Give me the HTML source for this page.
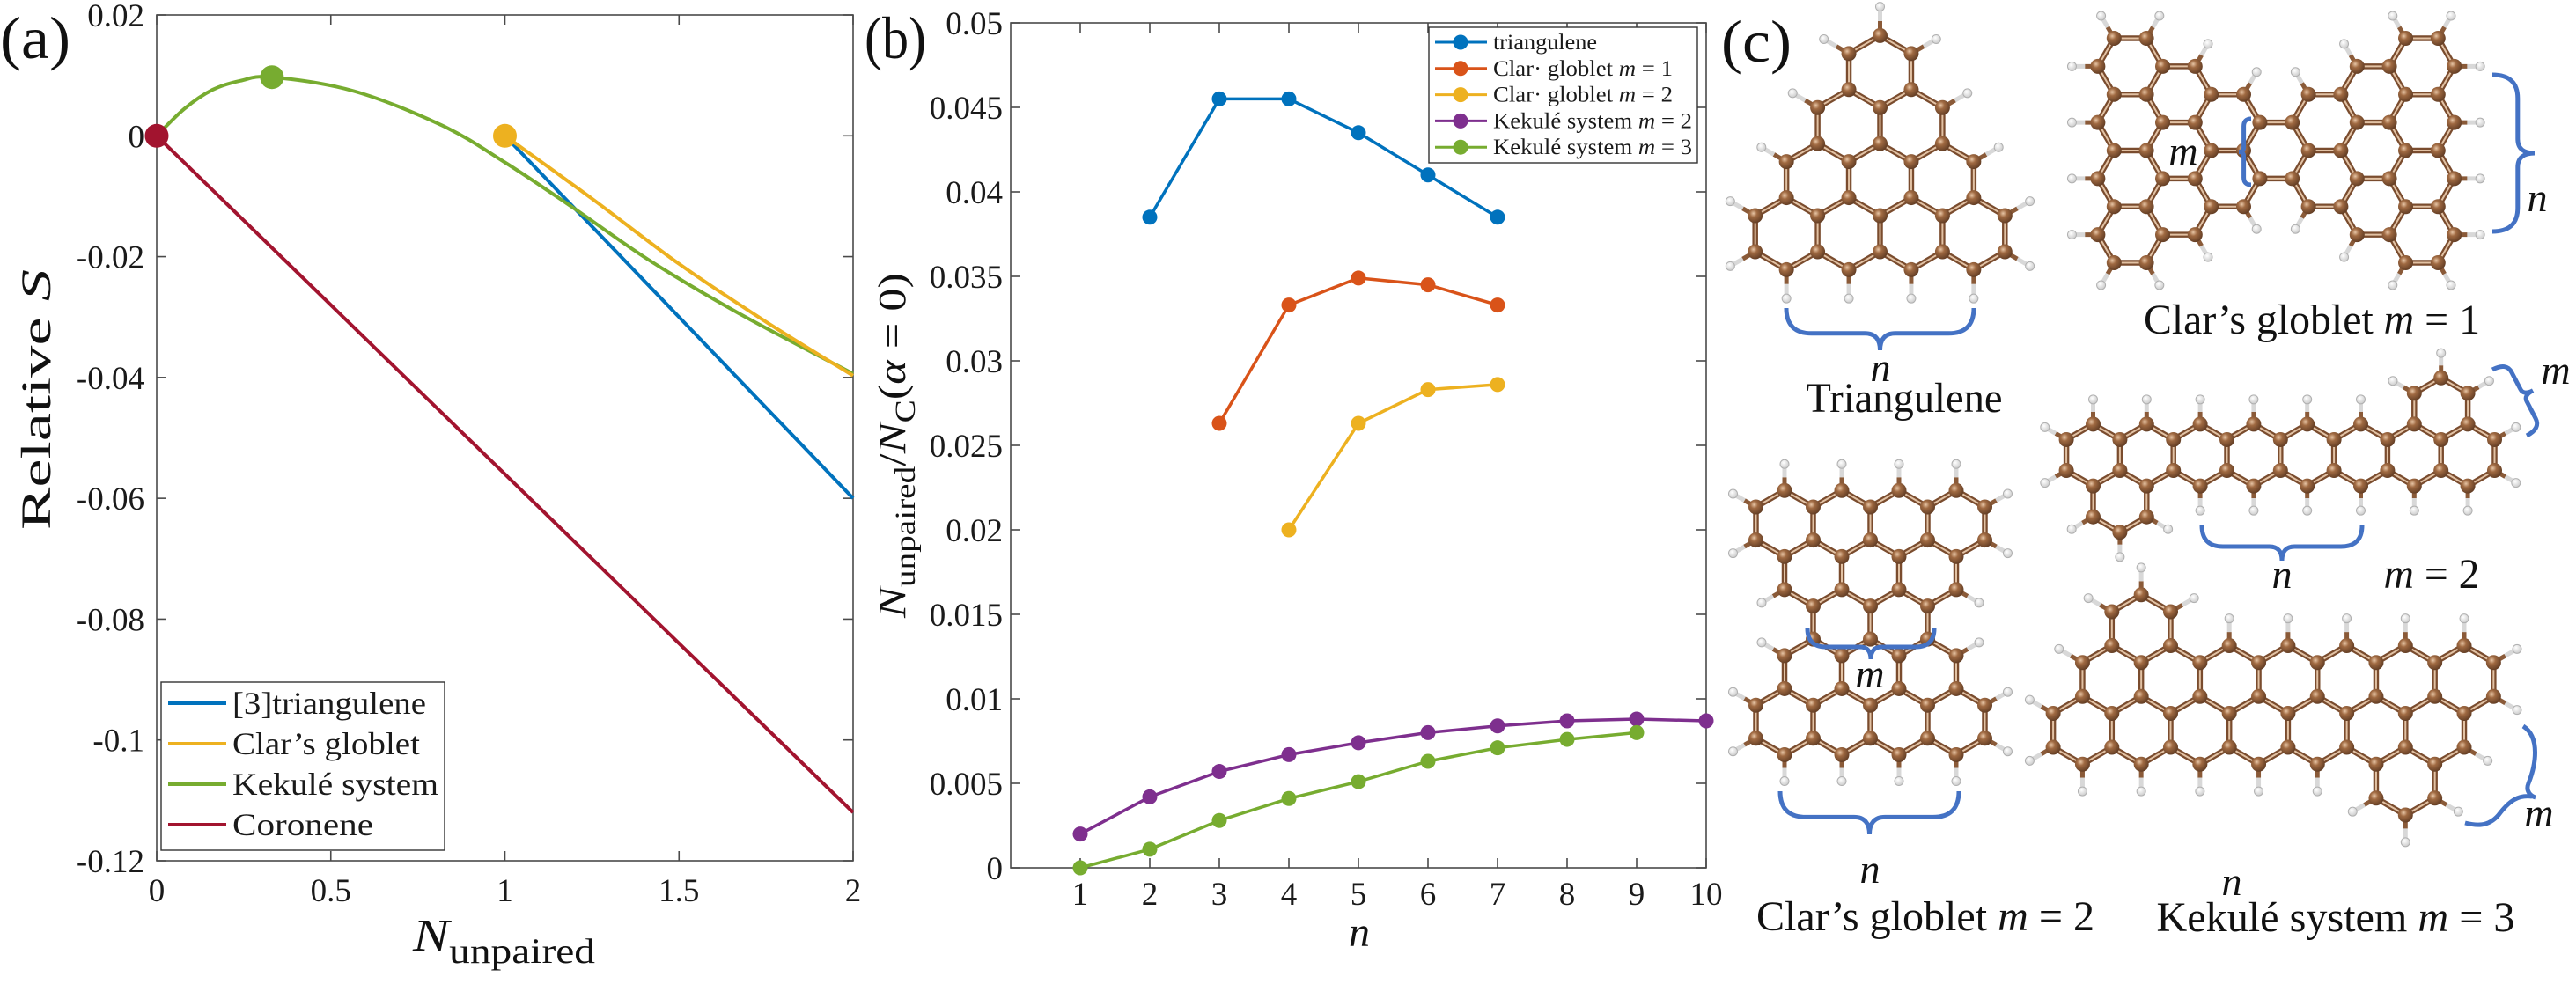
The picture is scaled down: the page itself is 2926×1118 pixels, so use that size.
<!DOCTYPE html>
<html><head><meta charset="utf-8">
<style>
html,body{margin:0;padding:0;background:#fff;}
svg{display:block;font-family:"Liberation Serif","DejaVu Serif",serif;}
</style></head>
<body>
<svg id="fig" width="2926" height="1118" viewBox="0 0 2926 1118" xmlns="http://www.w3.org/2000/svg">
<defs>
<radialGradient id="cg" cx="0.38" cy="0.35" r="0.7"><stop offset="0" stop-color="#e8c6a6"/><stop offset="0.35" stop-color="#a06a42"/><stop offset="1" stop-color="#5e3a22"/></radialGradient>
<radialGradient id="hg" cx="0.4" cy="0.35" r="0.7"><stop offset="0" stop-color="#ffffff"/><stop offset="1" stop-color="#c8c8c8"/></radialGradient>
</defs>
<g id="panelA"></g>
<g id="panelB"></g>
<g id="panelC"></g>
</svg>
<script>
// ---------- Panel (a) data ----------
const aKekN = [0, 0.08, 0.16, 0.24, 0.331, 0.566, 0.82, 1.0, 1.196, 1.412, 1.666, 2];
const aKekS = [0, 0.0045, 0.0076, 0.0091, 0.0097, 0.0074, 0.0017, -0.0044, -0.0119, -0.0205, -0.0292, -0.0394];
const aClarN = [1, 1.25, 1.5, 1.75, 2];
const aClarS = [0, -0.0104, -0.0212, -0.0308, -0.0397];
const aTriN = [1, 1.5, 2];
const aTriS = [0, -0.030, -0.060];
const aCorN = [0, 1, 2];
const aCorS = [0, -0.056, -0.112];
const aXTicks = [0, 0.5, 1, 1.5, 2];
const aXTickLabels = ["0", "0.5", "1", "1.5", "2"];
const aYTicks = [0.02, 0, -0.02, -0.04, -0.06, -0.08, -0.1, -0.12];
const aYTickLabels = ["0.02", "0", "-0.02", "-0.04", "-0.06", "-0.08", "-0.1", "-0.12"];
const aLegend = ["[3]triangulene", "Clar’s globlet", "Kekulé system", "Coronene"];
// ---------- Panel (b) data ----------
const bTriN = [2, 3, 4, 5, 6, 7];
const bTriV = [0.0385, 0.0455, 0.0455, 0.0435, 0.0410, 0.0385];
const bClar1N = [3, 4, 5, 6, 7];
const bClar1V = [0.0263, 0.0333, 0.0349, 0.0345, 0.0333];
const bClar2N = [4, 5, 6, 7];
const bClar2V = [0.0200, 0.0263, 0.0283, 0.0286];
const bKek2N = [1, 2, 3, 4, 5, 6, 7, 8, 9, 10];
const bKek2V = [0.0020, 0.0042, 0.0057, 0.0067, 0.0074, 0.0080, 0.0084, 0.0087, 0.0088, 0.0087];
const bKek3N = [1, 2, 3, 4, 5, 6, 7, 8, 9];
const bKek3V = [0.0000, 0.0011, 0.0028, 0.0041, 0.0051, 0.0063, 0.0071, 0.0076, 0.0080];
const bXTicks = [1, 2, 3, 4, 5, 6, 7, 8, 9, 10];
const bYTicks = [0, 0.005, 0.01, 0.015, 0.02, 0.025, 0.03, 0.035, 0.04, 0.045, 0.05];
const bYTickLabels = ["0", "0.005", "0.01", "0.015", "0.02", "0.025", "0.03", "0.035", "0.04", "0.045", "0.05"];

const NS = "http://www.w3.org/2000/svg";
function mk(tag, attrs, parent) {
  const e = document.createElementNS(NS, tag);
  for (const k in attrs) e.setAttribute(k, attrs[k]);
  if (parent) parent.appendChild(e);
  return e;
}
function smoothPath(pts) {
  if (pts.length < 3) return "M" + pts.map(p => p[0].toFixed(1) + "," + p[1].toFixed(1)).join(" L");
  let d = "M" + pts[0][0].toFixed(1) + "," + pts[0][1].toFixed(1);
  for (let i = 0; i < pts.length - 1; i++) {
    const p0 = pts[Math.max(0, i - 1)], p1 = pts[i], p2 = pts[i + 1], p3 = pts[Math.min(pts.length - 1, i + 2)];
    const c1 = [p1[0] + (p2[0] - p0[0]) / 6, p1[1] + (p2[1] - p0[1]) / 6];
    const c2 = [p2[0] - (p3[0] - p1[0]) / 6, p2[1] - (p3[1] - p1[1]) / 6];
    d += " C" + c1.map(v => v.toFixed(1)).join(",") + " " + c2.map(v => v.toFixed(1)).join(",") + " " + p2.map(v => v.toFixed(1)).join(",");
  }
  return d;
}

// ================= Panel A =================
(function () {
  const g = document.getElementById("panelA");
  const L = 178, R = 969, T = 17, B = 978;
  const xA = n => L + (n - 0) / 2 * (R - L);
  const yA = v => T + (0.02 - v) / 0.14 * (B - T);
  const ax = mk("rect", {x: L, y: T, width: R - L, height: B - T, fill: "none", stroke: "#4a4a4a", "stroke-width": 1.6}, g);
  
  
  aXTicks.forEach((t, i) => {
    const x = xA(t);
    mk("line", {x1: x, y1: B, x2: x, y2: B - 11, stroke: "#4a4a4a", "stroke-width": 1.6}, g);
    mk("line", {x1: x, y1: T, x2: x, y2: T + 11, stroke: "#4a4a4a", "stroke-width": 1.6}, g);
    const tx = mk("text", {x: x, y: 1024, "font-size": 37, "text-anchor": "middle", fill: "#1a1a1a"}, g);
    tx.textContent = aXTickLabels[i];
    
    
  });
  aYTicks.forEach((t, i) => {
    const y = yA(t);
    mk("line", {x1: L, y1: y, x2: L + 11, y2: y, stroke: "#4a4a4a", "stroke-width": 1.6}, g);
    mk("line", {x1: R, y1: y, x2: R - 11, y2: y, stroke: "#4a4a4a", "stroke-width": 1.6}, g);
    const tx = mk("text", {x: 164, y: y + 13, "font-size": 37, "text-anchor": "end", fill: "#1a1a1a"}, g);
    tx.textContent = aYTickLabels[i];
    
    
  });
  const series = [
    {n: aCorN, v: aCorS, c: "#A2142F", name: "coronene-line"},
    {n: aTriN, v: aTriS, c: "#0072BD", name: "triangulene-line"},
    {n: aKekN, v: aKekS, c: "#77AC30", name: "kekule-line"},
    {n: aClarN, v: aClarS, c: "#EDB120", name: "clar-goblet-line"}
  ];
  series.forEach(s => {
    const pts = s.n.map((n, i) => [xA(n), yA(s.v[i])]);
    const p = mk("path", {d: smoothPath(pts), fill: "none", stroke: s.c, "stroke-width": 4, "stroke-linejoin": "round"}, g);
    
    
  });
  const marks = [
    {n: aKekN[4], v: aKekS[4], c: "#77AC30", name: "kekule-marker"},
    {n: aClarN[0], v: aClarS[0], c: "#EDB120", name: "clar-goblet-marker"},
    {n: aCorN[0], v: aCorS[0], c: "#A2142F", name: "coronene-marker"}
  ];
  marks.forEach(m => {
    const c = mk("circle", {cx: xA(m.n), cy: yA(m.v), r: 13.5, fill: m.c}, g);
    
    
  });
  const lg = mk("g", {}, g);
  
  
  mk("rect", {x: 183, y: 775, width: 322, height: 191, fill: "#fff", stroke: "#333", "stroke-width": 1.4}, lg);
  const lc = ["#0072BD", "#EDB120", "#77AC30", "#A2142F"];
  const lw = [220, 213, 234, 160];
  aLegend.forEach((t, i) => {
    const y = 799 + i * 46;
    mk("line", {x1: 191, y1: y, x2: 257, y2: y, stroke: lc[i], "stroke-width": 4}, lg);
    const tx = mk("text", {x: 264, y: y + 12, "font-size": 36, fill: "#1a1a1a", textLength: lw[i], lengthAdjust: "spacingAndGlyphs"}, lg);
    tx.textContent = t;
    
    
  });
})();

// ================= Panel B =================
(function () {
  const g = document.getElementById("panelB");
  const L = 1148, R = 1938, T = 26, B = 986;
  const xB = n => L + n / 10 * (R - L);
  const yB = v => B - v / 0.05 * (B - T);
  const ax = mk("rect", {x: L, y: T, width: R - L, height: B - T, fill: "none", stroke: "#4a4a4a", "stroke-width": 1.6}, g);
  
  
  bXTicks.forEach(t => {
    const x = xB(t);
    mk("line", {x1: x, y1: B, x2: x, y2: B - 11, stroke: "#4a4a4a", "stroke-width": 1.6}, g);
    mk("line", {x1: x, y1: T, x2: x, y2: T + 11, stroke: "#4a4a4a", "stroke-width": 1.6}, g);
    const tx = mk("text", {x: x, y: 1028, "font-size": 37, "text-anchor": "middle", fill: "#1a1a1a"}, g);
    tx.textContent = String(t);
    
    
  });
  bYTicks.forEach((t, i) => {
    const y = yB(t);
    mk("line", {x1: L, y1: y, x2: L + 11, y2: y, stroke: "#4a4a4a", "stroke-width": 1.6}, g);
    mk("line", {x1: R, y1: y, x2: R - 11, y2: y, stroke: "#4a4a4a", "stroke-width": 1.6}, g);
    const tx = mk("text", {x: 1139, y: y + 13, "font-size": 37, "text-anchor": "end", fill: "#1a1a1a"}, g);
    tx.textContent = bYTickLabels[i];
    
    
  });
  const series = [
    {n: bTriN, v: bTriV, c: "#0072BD", name: "series-triangulene"},
    {n: bClar1N, v: bClar1V, c: "#D95319", name: "series-clar-m1"},
    {n: bClar2N, v: bClar2V, c: "#EDB120", name: "series-clar-m2"},
    {n: bKek2N, v: bKek2V, c: "#7E2F8E", name: "series-kekule-m2"},
    {n: bKek3N, v: bKek3V, c: "#77AC30", name: "series-kekule-m3"}
  ];
  series.forEach(s => {
    const sg = mk("g", {}, g);
    
    
    const pts = s.n.map((n, i) => xB(n).toFixed(1) + "," + yB(s.v[i]).toFixed(1)).join(" ");
    mk("polyline", {points: pts, fill: "none", stroke: s.c, "stroke-width": 3.5, "stroke-linejoin": "round"}, sg);
    s.n.forEach((n, i) => {
      const c = mk("circle", {cx: xB(n), cy: yB(s.v[i]), r: 8.5, fill: s.c}, sg);
      
      
    });
  });
  const lg = mk("g", {}, g);
  
  
  mk("rect", {x: 1623, y: 31, width: 305, height: 154, fill: "#fff", stroke: "#333", "stroke-width": 1.4}, lg);
  const items = [
    ["triangulene", "", "#0072BD", 118],
    ["Clar· globlet ", "= 1", "#D95319", 204],
    ["Clar· globlet ", "= 2", "#EDB120", 204],
    ["Kekulé system ", "= 2", "#7E2F8E", 226],
    ["Kekulé system ", "= 3", "#77AC30", 226]
  ];
  items.forEach((it, i) => {
    const y = 48 + i * 29.8;
    mk("line", {x1: 1630, y1: y, x2: 1689, y2: y, stroke: it[2], "stroke-width": 3}, lg);
    mk("circle", {cx: 1659, cy: y, r: 8.5, fill: it[2]}, lg);
    const tx = mk("text", {x: 1696, y: y + 8, "font-size": 25, fill: "#1a1a1a", textLength: it[3], lengthAdjust: "spacingAndGlyphs"}, lg);
    
    
    if (it[1]) {
      tx.appendChild(document.createTextNode(it[0]));
      const m = mk("tspan", {"font-style": "italic"}, tx); m.textContent = "m";
      tx.appendChild(document.createTextNode(" " + it[1]));
    } else tx.textContent = it[0];
  });
})();

// ================= Panel C (molecules) =================
const pc = document.getElementById("panelC");
function molecule(name, rings, b, flat) {
  const g = mk("g", {}, pc);
  
  
  const atoms = [], amap = {}, bonds = {}, nb = {};
  function aid(x, y) {
    const k = Math.round(x / 4) + "_" + Math.round(y / 4);
    for (let dx = -1; dx <= 1; dx++) for (let dy = -1; dy <= 1; dy++) {
      const kk = (Math.round(x / 4) + dx) + "_" + (Math.round(y / 4) + dy);
      if (amap[kk] !== undefined) return amap[kk];
    }
    amap[k] = atoms.length; atoms.push([x, y]); nb[atoms.length - 1] = new Set(); return atoms.length - 1;
  }
  rings.forEach(([cx, cy]) => {
    const ids = [];
    for (let k = 0; k < 6; k++) {
      const a = (flat ? 0 : 30) + 60 * k;
      ids.push(aid(cx + b * Math.cos(a * Math.PI / 180), cy + b * Math.sin(a * Math.PI / 180)));
    }
    for (let k = 0; k < 6; k++) {
      const i = ids[k], j = ids[(k + 1) % 6];
      const key = Math.min(i, j) + "-" + Math.max(i, j);
      bonds[key] = [i, j]; nb[i].add(j); nb[j].add(i);
    }
  });
  const hs = [];
  atoms.forEach((p, i) => {
    if (nb[i].size === 2) {
      let mx = 0, my = 0; nb[i].forEach(j => { mx += atoms[j][0]; my += atoms[j][1]; });
      mx /= 2; my /= 2;
      let dx = p[0] - mx, dy = p[1] - my; const l = Math.hypot(dx, dy);
      hs.push([i, p[0] + dx / l * b * 0.8, p[1] + dy / l * b * 0.8]);
    }
  });
  hs.forEach(([i, hx, hy]) => {
    const p = atoms[i];
    mk("line", {x1: p[0], y1: p[1], x2: (p[0] + hx) / 2, y2: (p[1] + hy) / 2, stroke: "#8a5a38", "stroke-width": 5}, g);
    mk("line", {x1: (p[0] + hx) / 2, y1: (p[1] + hy) / 2, x2: hx, y2: hy, stroke: "#d8d8d8", "stroke-width": 5}, g);
  });
  Object.values(bonds).forEach(([i, j]) => {
    const a = atoms[i], c = atoms[j];
    mk("line", {x1: a[0], y1: a[1], x2: c[0], y2: c[1], stroke: "#7a4c2e", "stroke-width": 6.5}, g);
    mk("line", {x1: a[0], y1: a[1], x2: c[0], y2: c[1], stroke: "#e2c2a4", "stroke-width": 2}, g);
  });
  hs.forEach(([i, hx, hy]) => {
    mk("circle", {cx: hx, cy: hy, r: 5, fill: "url(#hg)", stroke: "#b0b0b0", "stroke-width": 1}, g);
  });
  atoms.forEach(p => mk("circle", {cx: p[0], cy: p[1], r: 8.5, fill: "url(#cg)"}, g));
}
function rowRings(x0, dx, count, y) { const r = []; for (let i = 0; i < count; i++) r.push([x0 + i * dx, y]); return r; }

(function () {
  const s = 70.9, b = s / Math.sqrt(3), r = [];
  for (let row = 0; row < 4; row++) r.push(...rowRings(2135.5 - row * s / 2, s, row + 1, 265.5 - (3 - row) * 1.5 * b));
  molecule("triangulene-molecule", r, b, false);
})();
(function () {
  const s = 65, b = s / Math.sqrt(3), counts = [4, 3, 2, 3, 4], r = [];
  counts.forEach((c, row) => r.push(...rowRings(2124.5 - (c - 1) * s / 2, s, c, 594.8 + row * 1.5 * b)));
  molecule("clar-goblet-m2-molecule", r, b, false);
})();
(function () {
  const b = 36.8, h = Math.sqrt(3) * b, counts = [4, 3, 2, 1, 2, 3, 4], r = [];
  counts.forEach((c, col) => { for (let j = 0; j < c; j++) r.push([2419.7 + col * 1.5 * b, 171 + (j - (c - 1) / 2) * h]); });
  molecule("clar-goblet-m1-molecule", r, b, true);
})();
(function () {
  const s = 60.8, b = s / Math.sqrt(3), r = rowRings(2377.5, s, 8, 517);
  r.push([2377.5 + 0.5 * s, 517 + 1.5 * b]);
  r.push([2377.5 + 6.5 * s, 517 - 1.5 * b]);
  molecule("kekule-m2-molecule", r, b, false);
})();
(function () {
  const s = 66.7, b = s / Math.sqrt(3);
  const r = rowRings(2398.8, s, 7, 772).concat(rowRings(2398.8 - s / 2, s, 7, 772 + 1.5 * b));
  r.push([2398.8 + 0.5 * s, 772 - 1.5 * b]);
  r.push([2398.8 - s / 2 + 5.5 * s, 772 + 3 * b]);
  molecule("kekule-m3-molecule", r, b, false);
})();

function brace(name, x1, y1, x2, y2, d) {
  const dx = x2 - x1, dy = y2 - y1, L = Math.hypot(dx, dy);
  const ux = dx / L, uy = dy / L, nx = -uy, ny = ux;
  const P = (u, v) => (x1 + ux * u + nx * v).toFixed(1) + "," + (y1 + uy * u + ny * v).toFixed(1);
  const h = d * 0.6, r = Math.min(Math.abs(d) * 0.6, L * 0.15);
  const dd = "M" + P(0, 0) + " Q" + P(0, h) + " " + P(r, h) + " L" + P(L / 2 - r * 0.6, h) + " Q" + P(L / 2, h) + " " + P(L / 2, d) +
    " M" + P(L, 0) + " Q" + P(L, h) + " " + P(L - r, h) + " L" + P(L / 2 + r * 0.6, h) + " Q" + P(L / 2, h) + " " + P(L / 2, d);
  const p = mk("path", {d: dd, fill: "none", stroke: "#4472C4", "stroke-width": 5, "stroke-linecap": "butt"}, pc);
  
  
}
brace("triangulene-n-brace", 2029, 350, 2242, 350, 48);
brace("clar2-n-brace", 2022, 899, 2225, 899, 49);
brace("clar2-m-brace", 2053, 714, 2197, 714, 35);
brace("clar1-n-brace", 2831, 85, 2831, 263, -48);
brace("clar1-m-brace", 2557, 135, 2557, 210, 14);
brace("kek2-n-brace", 2501, 597, 2683, 597, 40);
brace("kek2-m-brace", 2831, 420, 2870, 495, -30);
(function () {
  const p = mk("path", {d: "M2866,825 C2886,838 2880,870 2872,890 C2868,900 2876,905 2880,906 M2876,905 C2860,903 2850,910 2838,926 C2826,940 2812,938 2800,935", fill: "none", stroke: "#4472C4", "stroke-width": 5}, pc);
  
  
})();

function label(name, x, y, size, parts, width, anchor) {
  const t = mk("text", {x: x, y: y, "font-size": size, fill: "#111", "text-anchor": anchor || "middle"}, document.getElementById("fig"));
  if (width) { t.setAttribute("textLength", width); t.setAttribute("lengthAdjust", "spacingAndGlyphs"); }
  parts.forEach(p => {
    if (typeof p === "string") t.appendChild(document.createTextNode(p));
    else { const s = mk("tspan", p.a || {}, t); s.textContent = p.t; }
  });
  
  
  return t;
}
const I = t => ({t: t, a: {"font-style": "italic"}});
label("panel-label-a", 0, 66, 68, ["(a)"], 80, "start");
label("panel-label-b", 982, 66, 68, ["(b)"], 70, "start");
label("panel-label-c", 1955, 70, 68, ["(c)"], 80, "start");
(function () {
  const t = label("y-axis-title-a", 0, 0, 48, ["Relative ", I("S")], 296);
  t.setAttribute("transform", "translate(57,454) rotate(-90)");
  label("x-axis-title-a", 469, 1080, 52, [I("N"), {t: "unpaired", a: {"font-size": 40, dy: 14}}], 207, "start");
  label("x-axis-title-b", 1544, 1075, 48, [I("n")]);
  const yb = label("y-axis-title-b", 0, 0, 44, [I("N"), {t: "unpaired", a: {"font-size": 33, dy: 11}}, {t: "/", a: {dy: -11}}, I("N"), {t: "C", a: {"font-size": 33, dy: 11}}, {t: "(", a: {dy: -11}}, I("α"), " = 0)"], 392);
  yb.setAttribute("transform", "translate(1028,506) rotate(-90)");
})();
label("triangulene-n-label", 2136, 433, 46, [I("n")]);
label("triangulene-title", 2163, 468, 48, ["Triangulene"], 223);
label("clar1-title", 2626, 379, 48, ["Clar’s globlet ", I("m"), " = 1"], 382);
label("clar1-m-label", 2480, 187, 46, [I("m")]);
label("clar1-n-label", 2882, 240, 46, [I("n")]);
label("kek2-n-label", 2592, 668, 46, [I("n")]);
label("kek2-m2-title", 2762, 668, 48, [I("m"), " = 2"], 109);
label("kek2-m-label", 2903, 436, 46, [I("m")]);
label("clar2-m-label", 2124, 781, 46, [I("m")]);
label("clar2-n-label", 2124, 1003, 46, [I("n")]);
label("clar2-title", 2187, 1057, 48, ["Clar’s globlet ", I("m"), " = 2"], 384);
label("kek3-n-label", 2535, 1017, 46, [I("n")]);
label("kek3-title", 2653, 1058, 48, ["Kekulé system ", I("m"), " = 3"], 407);
label("kek3-m-label", 2884, 939, 46, [I("m")]);
</script>
</body></html>
